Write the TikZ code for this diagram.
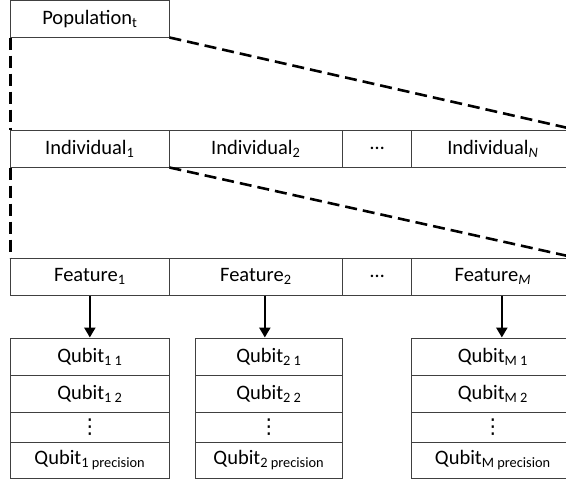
\documentclass[tikz,border=0pt]{standalone}
\usepackage{fontspec}
\setmainfont{Carlito}
\newfontfamily\symfont{DejaVu Sans}
\usetikzlibrary{arrows.meta}

\newcommand{\colvdots}{{\symfont ⋮}}

\begin{document}
\begin{tikzpicture}[
			x=1pt, y=-1pt,
			cell/.style={rectangle, draw=black!75, line width=1pt, inner sep=0pt, minimum height=37pt, font=\fontsize{20.5}{24}\selectfont},
			zoomline/.style={line width=2.6pt, dash pattern=on 12pt off 6pt},
			feedarrow/.style={-{Triangle[width=11pt,length=10pt]}, line width=2.6pt},
			]
			\useasboundingbox (0,0) rectangle (566,479);
			\clip (0,0) rectangle (566,479);
			% population
			\node[cell, minimum width=158.3pt, minimum height=36.5pt] at (89.85,18.75) (pop) {Population\textsubscript{t}};
			% individuals
			\node[cell, minimum width=158.3pt] at (89.85,148.5) (ind1) {Individual\textsubscript{1}};
			\node[cell, minimum width=173.7pt] at (255.85,148.5) (ind2) {Individual\textsubscript{2}};
			\node[cell, minimum width=69pt] at (377.2,148.5) (indd) {\dots};
			\node[cell, minimum width=162.3pt] at (492.85,148.5) (indN) {Individual\textsubscript{\textit{N}}};
			% features
			\node[cell, minimum width=158.3pt] at (89.85,276.5) (feat1) {Feature\textsubscript{1}};
			\node[cell, minimum width=173.7pt] at (255.85,276.5) (feat2) {Feature\textsubscript{2}};
			\node[cell, minimum width=69pt] at (377.2,276.5) (featd) {\dots};
			\node[cell, minimum width=162.3pt] at (492.85,276.5) (featM) {Feature\textsubscript{\textit{M}}};
			% qubits
			\node[cell, minimum width=158.3pt] at (89.85,356.5) (q11) {Qubit\textsubscript{1 1}};
			\node[cell, minimum width=158.3pt] at (89.85,393.5) (q12) {Qubit\textsubscript{1 2}};
			\node[cell, minimum width=158.3pt, minimum height=30pt] at (89.85,427) (q1d) {\colvdots};
			\node[cell, minimum width=158.3pt, minimum height=36pt] at (89.85,460) (q1p) {Qubit\textsubscript{1 precision}};
			\node[cell, minimum width=147.7pt] at (268.85,356.5) (q21) {Qubit\textsubscript{2 1}};
			\node[cell, minimum width=147.7pt] at (268.85,393.5) (q22) {Qubit\textsubscript{2 2}};
			\node[cell, minimum width=147.7pt, minimum height=30pt] at (268.85,427) (q2d) {\colvdots};
			\node[cell, minimum width=147.7pt, minimum height=36pt] at (268.85,460) (q2p) {Qubit\textsubscript{2 precision}};
			\node[cell, minimum width=162.3pt] at (492.85,356.5) (qM1) {Qubit\textsubscript{M 1}};
			\node[cell, minimum width=162.3pt] at (492.85,393.5) (qM2) {Qubit\textsubscript{M 2}};
			\node[cell, minimum width=162.3pt, minimum height=30pt] at (492.85,427) (qMd) {\colvdots};
			\node[cell, minimum width=162.3pt, minimum height=36pt] at (492.85,460) (qMp) {Qubit\textsubscript{M precision}};
			% zoom lines
			\draw[zoomline] (pop.south west) -- (ind1.north west);
			\draw[zoomline] (pop.south east) -- (indN.north east);
			\draw[zoomline] (ind1.south west) -- (feat1.north west);
			\draw[zoomline] (ind1.south east) -- (featM.north east);
			% feature to qubits
			\draw[feedarrow] (feat1.south) -- (q11.north);
			\draw[feedarrow] ([xshift=-4pt]q21.north |- feat2.south) -- ([xshift=-4pt]q21.north);
			\draw[feedarrow] ([xshift=9pt]qM1.north |- featM.south) -- ([xshift=9pt]qM1.north);
		\end{tikzpicture}
\end{document}
